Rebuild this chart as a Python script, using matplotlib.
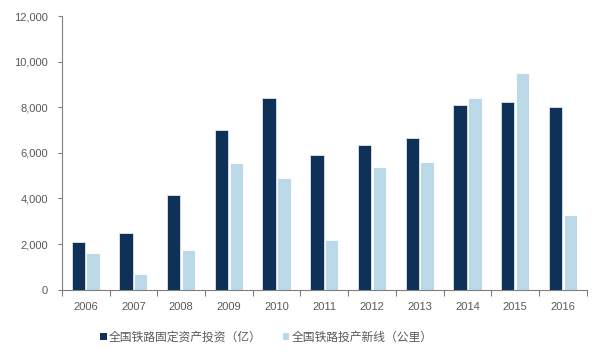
import numpy as np
import matplotlib.pyplot as plt
from matplotlib.patches import Patch

plt.rcParams["font.family"] = ["Liberation Sans", "Noto Sans CJK SC", "DejaVu Sans"]

# 数据
years = ["2006", "2007", "2008", "2009", "2010", "2011",
         "2012", "2013", "2014", "2015", "2016"]
investment = [2070, 2500, 4150, 7000, 8400, 5900, 6340, 6650, 8090, 8240, 8010]
new_lines = [1600, 670, 1750, 5560, 4900, 2170, 5380, 5590, 8430, 9530, 3280]
yticks = [0, 2000, 4000, 6000, 8000, 10000, 12000]
labels = ["全国铁路固定资产投资（亿）", "全国铁路投产新线（公里）"]

dark = "#0F3158"
light = "#BCD9EA"
grey = "#595959"

fig = plt.figure(figsize=(6, 3.57), dpi=100)
ax = fig.add_axes([0.103, 0.189, 0.875, 0.765])

x = np.arange(len(years))
w = 0.28
ax.bar(x - 0.155, investment, w, color=dark, edgecolor="#DDE6EE", linewidth=0.6)
ax.bar(x + 0.155, new_lines, w, color=light, edgecolor="white", linewidth=0.6)

ax.set_xlim(-0.5, len(years) - 0.5)
ax.set_ylim(0, 12000)
ax.set_yticks(yticks)
ax.set_yticklabels([f"{v:,}" for v in yticks])

# 类别边界处的刻度线，标签放在中间
ax.set_xticks(np.arange(len(years) + 1) - 0.5)
ax.set_xticklabels([])
ax.set_xticks(x, minor=True)
ax.set_xticklabels(years, minor=True)
ax.tick_params(axis="x", which="major", length=4, width=0.8, color="#7F7F7F")
ax.tick_params(axis="x", which="minor", length=0, pad=9, labelsize=8, labelcolor=grey)
ax.tick_params(axis="y", length=3, width=0.8, color="#7F7F7F", pad=7,
               labelsize=8, labelcolor=grey)

for s in ["top", "right"]:
    ax.spines[s].set_visible(False)
for s in ["left", "bottom"]:
    ax.spines[s].set_color("#7F7F7F")
    ax.spines[s].set_linewidth(0.8)

handles = [Patch(facecolor=dark), Patch(facecolor=light)]
fig.legend(handles, labels, loc="center", bbox_to_anchor=(0.444, 0.055), ncol=2,
           frameon=False, handlelength=0.55, handleheight=0.6, handletextpad=0.2,
           columnspacing=1.8, prop={"family": ["Noto Sans CJK SC"], "size": 8.5},
           labelcolor=grey)

plt.savefig("out.png", dpi=100)
